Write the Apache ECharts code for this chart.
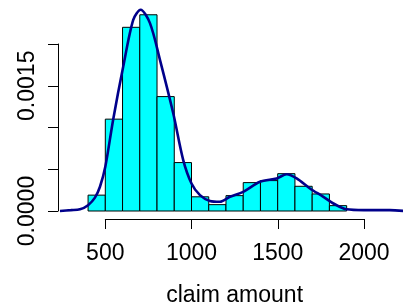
<!DOCTYPE html>
<html>
<head>
<meta charset="utf-8">
<script src="https://cdn.jsdelivr.net/npm/echarts@6/dist/echarts.min.js"></script>
<style>
html, body { margin: 0; padding: 0; background: #fff; }
#chart { width: 403px; height: 306px; }
</style>
</head>
<body>
<div id="chart"></div>
<script>
// histogram bins (claim amount), width 100
var binStarts = [400, 500, 600, 700, 800, 900, 1000, 1100, 1200, 1300, 1400, 1500, 1600, 1700, 1800];
var binWidth = 100;
var densities = [0.00019, 0.0011, 0.0022, 0.00235, 0.00137, 0.00058, 0.00017, 0.000076,
                 0.000184, 0.00034, 0.000364, 0.000447, 0.000296, 0.000204, 0.000064];

// kernel density curve
var curveX = [237, 300, 353, 400, 440, 469, 500, 546, 604, 662, 705, 759, 817, 894, 952, 1000,
              1049, 1107, 1165, 1223, 1300, 1397, 1494, 1552, 1610, 1687, 1765, 1823, 1900, 2000, 2150, 2240];
var curveY = [0, 0.00001, 0.00002, 0.00007, 0.00016, 0.00029, 0.00053, 0.0011, 0.00173, 0.00229, 0.00241,
              0.00225, 0.00181, 0.00117, 0.00061, 0.00033, 0.00019, 0.00012, 0.00011, 0.00017, 0.00023,
              0.00035, 0.00039, 0.00044, 0.00039, 0.00027, 0.00017, 0.00009, 0.00002, 0.00001, 0.00001, 0];

// axes
var xTicks = [500, 1000, 1500, 2000];
var yTicks = [0, 0.0005, 0.001, 0.0015, 0.002];
var yTickLabels = ['0.0000', '0.0015'];
var xName = 'claim amount';

var font = "'Liberation Sans', Arial, sans-serif";

var barData = binStarts.map(function (s, i) {
    return [s, s + binWidth, densities[i]];
});
var curveData = curveX.map(function (x, i) {
    return [x, curveY[i]];
});

var myChart = echarts.init(document.getElementById('chart'));

var option = {
    animation: false,
    grid: [
        { left: 58, right: 0, top: 44, bottom: 95, outerBoundsMode: 'none' },         // plot
        { left: 105.3, right: 39, top: 200, height: 19, outerBoundsMode: 'none' }     // R style x axis
    ],
    xAxis: [
        { gridIndex: 0, type: 'value', min: 225.6, max: 2226.8, show: false },
        {
            gridIndex: 1, type: 'value', position: 'bottom',
            min: xTicks[0], max: xTicks[xTicks.length - 1], interval: xTicks[1] - xTicks[0],
            axisLine: { lineStyle: { color: '#000', width: 1 } },
            axisTick: { length: 10, lineStyle: { color: '#000' } },
            axisLabel: {
                color: '#000', fontSize: 23, fontFamily: font, margin: 23,
                formatter: function (v) { return String(v); }
            },
            splitLine: { show: false },
            name: xName, nameLocation: 'middle', nameGap: 65,
            nameTextStyle: { color: '#000', fontSize: 23, fontFamily: font }
        }
    ],
    yAxis: [
        {
            gridIndex: 0, type: 'value',
            min: yTicks[0], max: yTicks[yTicks.length - 1], interval: yTicks[1] - yTicks[0],
            axisLine: { show: true, lineStyle: { color: '#000', width: 1 } },
            axisTick: { show: true, length: 10, lineStyle: { color: '#000' } },
            axisLabel: {
                color: '#000', fontSize: 23, fontFamily: font, rotate: 90, margin: 19,
                showMinLabel: true, showMaxLabel: true, hideOverlap: false,
                formatter: function (v) {
                    var s = v.toFixed(4);
                    return yTickLabels.indexOf(s) >= 0 ? s : '';
                }
            },
            splitLine: { show: false }
        },
        { gridIndex: 1, type: 'value', show: false }
    ],
    series: [
        {
            type: 'custom',
            xAxisIndex: 0, yAxisIndex: 0,
            clip: false,
            data: barData,
            encode: { x: [0, 1], y: 2 },
            renderItem: function (params, api) {
                var top = api.coord([api.value(0), api.value(2)]);
                var bot = api.coord([api.value(1), 0]);
                return {
                    type: 'rect',
                    shape: { x: top[0], y: top[1], width: bot[0] - top[0], height: bot[1] - top[1] },
                    style: { fill: '#00ffff', stroke: '#000', lineWidth: 1 }
                };
            }
        },
        {
            type: 'line',
            xAxisIndex: 0, yAxisIndex: 0,
            clip: false,
            data: curveData,
            showSymbol: false,
            smooth: 0.3,
            z: 3,
            lineStyle: { color: '#00008b', width: 2.6 }
        }
    ]
};

myChart.setOption(option);
</script>
</body>
</html>
